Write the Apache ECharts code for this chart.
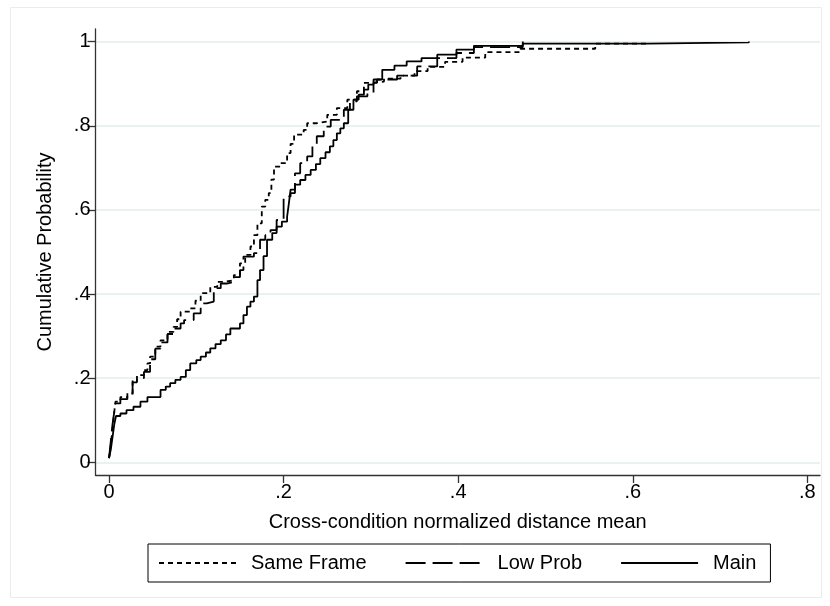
<!DOCTYPE html>
<html><head><meta charset="utf-8">
<script src="https://cdn.jsdelivr.net/npm/echarts@6/dist/echarts.min.js"></script>
<style>html,body{margin:0;padding:0;background:#fff}#c{width:830px;height:606px}</style>
</head><body><div id="c"></div>
<script>
// Tick values and labels
const xTicks = [0, 0.2, 0.4, 0.6, 0.8];
const xTickLabels = ['0', '.2', '.4', '.6', '.8'];
const yTicks = [0, 0.2, 0.4, 0.6, 0.8, 1];
const yTickLabels = ['0', '.2', '.4', '.6', '.8', '1'];

// Same Frame (short dash) ECDF steps
const sameX = [0.000,0.002,0.004,0.006,0.0074,0.013,0.021,0.027,0.032,0.040,0.044,0.047,0.053,0.059,0.067,0.074,0.078,0.082,0.093,0.099,0.105,0.116,0.124,0.133,0.143,0.150,0.156,0.162,0.166,0.170,0.175,0.179,0.183,0.186,0.189,0.196,0.204,0.208,0.212,0.223,0.227,0.238,0.250,0.261,0.273,0.284,0.292,0.300,0.315,0.334,0.350,0.365,0.385,0.405,0.431,0.471,0.557,0.617];
const sameY = [0.01,0.04,0.08,0.12,0.144,0.155,0.164,0.195,0.207,0.219,0.235,0.251,0.275,0.290,0.310,0.322,0.340,0.358,0.366,0.384,0.402,0.417,0.429,0.433,0.445,0.473,0.493,0.513,0.540,0.568,0.608,0.624,0.640,0.672,0.703,0.711,0.735,0.757,0.779,0.790,0.806,0.810,0.826,0.842,0.862,0.882,0.902,0.905,0.912,0.919,0.930,0.940,0.952,0.962,0.975,0.983,0.995,1.0];

// Low Prob (long dash) ECDF steps
const lowX = [0.000,0.002,0.004,0.006,0.0074,0.013,0.021,0.027,0.032,0.040,0.047,0.053,0.059,0.067,0.074,0.082,0.086,0.097,0.105,0.112,0.120,0.128,0.135,0.143,0.150,0.154,0.166,0.173,0.179,0.185,0.192,0.200,0.208,0.213,0.219,0.227,0.233,0.238,0.246,0.254,0.269,0.276,0.284,0.296,0.303,0.307,0.330,0.353,0.376,0.398,0.418,0.474];
const lowY = [0.01,0.05,0.09,0.12,0.14,0.15,0.16,0.19,0.20,0.215,0.245,0.27,0.285,0.305,0.318,0.33,0.338,0.354,0.378,0.382,0.414,0.425,0.429,0.44,0.457,0.489,0.497,0.529,0.54,0.552,0.576,0.632,0.640,0.687,0.711,0.727,0.755,0.775,0.798,0.814,0.838,0.858,0.870,0.878,0.902,0.910,0.919,0.941,0.961,0.973,0.987,1.0];

// Main (solid) ECDF steps
const mainX = [0.000,0.002,0.004,0.006,0.008,0.013,0.020,0.028,0.036,0.044,0.059,0.065,0.070,0.076,0.082,0.088,0.093,0.100,0.105,0.111,0.116,0.122,0.128,0.134,0.139,0.150,0.154,0.158,0.162,0.166,0.170,0.173,0.177,0.181,0.187,0.192,0.198,0.204,0.206,0.208,0.213,0.219,0.225,0.231,0.237,0.242,0.248,0.253,0.257,0.261,0.265,0.269,0.274,0.280,0.286,0.292,0.297,0.303,0.313,0.327,0.341,0.358,0.376,0.398,0.418,0.474,0.617,0.733];
const mainY = [0.01,0.03,0.06,0.09,0.11,0.116,0.124,0.132,0.144,0.155,0.172,0.18,0.188,0.196,0.203,0.219,0.235,0.243,0.251,0.261,0.271,0.281,0.29,0.304,0.318,0.33,0.35,0.37,0.382,0.394,0.433,0.457,0.49,0.529,0.545,0.56,0.572,0.584,0.615,0.648,0.66,0.671,0.683,0.695,0.709,0.723,0.737,0.751,0.766,0.782,0.794,0.806,0.838,0.862,0.874,0.886,0.898,0.91,0.933,0.943,0.953,0.961,0.969,0.981,0.99,0.995,0.998,1.0];

const FONT = '"Liberation Sans", Arial, Helvetica, sans-serif';
const pairs = (xs, ys) => xs.map((x, i) => [x, ys[i]]);
const lbl = (ticks, labels) => v => { const i = ticks.findIndex(t => Math.abs(t - v) < 1e-9); return i >= 0 ? labels[i] : ''; };

const chart = echarts.init(document.getElementById('c'), null, {renderer: 'canvas'});
const lineBase = {type: 'line', step: 'end', symbol: 'none', showSymbol: false, animation: false, z: 3};
chart.setOption({
  animation: false,
  backgroundColor: '#fff',
  textStyle: {fontFamily: FONT},
  graphic: [{type: 'rect', shape: {x: 10.5, y: 7.5, width: 811, height: 590}, style: {fill: 'none', stroke: '#ececec', lineWidth: 1}, silent: true, z: -10}],
  grid: {left: 95.5, right: 10, top: 29, bottom: 131, containLabel: false},
  xAxis: {
    type: 'value', min: -0.0155, max: 0.8145,
    name: 'Cross-condition normalized distance mean', nameLocation: 'middle', nameGap: 37, nameMoveOverlap: false,
    nameTextStyle: {fontSize: 20, color: '#000', fontFamily: FONT},
    axisLine: {show: true, onZero: false, lineStyle: {color: '#333', width: 1.3}},
    axisTick: {show: true, inside: false, customValues: xTicks, length: 8, lineStyle: {color: '#333', width: 1.3}},
    axisLabel: {customValues: xTicks, formatter: lbl(xTicks, xTickLabels), fontSize: 20, color: '#000', margin: 7, fontFamily: FONT},
    splitLine: {show: false}
  },
  yAxis: {
    type: 'value', min: -0.0302, max: 1.030,
    name: 'Cumulative Probability', nameLocation: 'middle', nameGap: 40, nameRotate: 90, nameMoveOverlap: false,
    nameTextStyle: {fontSize: 20, color: '#000', fontFamily: FONT},
    axisLine: {show: true, onZero: false, lineStyle: {color: '#333', width: 1.3}},
    axisTick: {show: true, inside: false, customValues: yTicks, length: 8, lineStyle: {color: '#333', width: 1.3}},
    axisLabel: {customValues: yTicks, formatter: lbl(yTicks, yTickLabels), fontSize: 20, color: '#000', margin: 5, fontFamily: FONT},
    splitLine: {show: true, lineStyle: {color: '#e3eded', width: 1.5}}
  },
  legend: {
    left: 148, top: 544, orient: 'horizontal',
    data: ['Same Frame', 'Low Prob', 'Main'],
    itemWidth: 77, itemHeight: 14, itemGap: 38,
    padding: [9, 14, 9, 10],
    borderColor: '#000', borderWidth: 1, backgroundColor: '#fff',
    itemStyle: {opacity: 0, borderWidth: 0},
    textStyle: {fontSize: 20, color: '#000', fontFamily: FONT, padding: [0, 0, 0, 10]},
    selectedMode: false
  },
  series: [
    Object.assign({}, lineBase, {name: 'Same Frame', data: pairs(sameX, sameY), lineStyle: {color: '#000', width: 1.8, type: [5, 4]}, itemStyle: {color: '#000'}}),
    Object.assign({}, lineBase, {name: 'Low Prob', data: pairs(lowX, lowY), lineStyle: {color: '#000', width: 1.8, type: [20, 7]}, itemStyle: {color: '#000'}}),
    Object.assign({}, lineBase, {name: 'Main', data: pairs(mainX, mainY), lineStyle: {color: '#000', width: 1.8, type: 'solid'}, itemStyle: {color: '#000'}})
  ]
});
</script>
</body></html>
